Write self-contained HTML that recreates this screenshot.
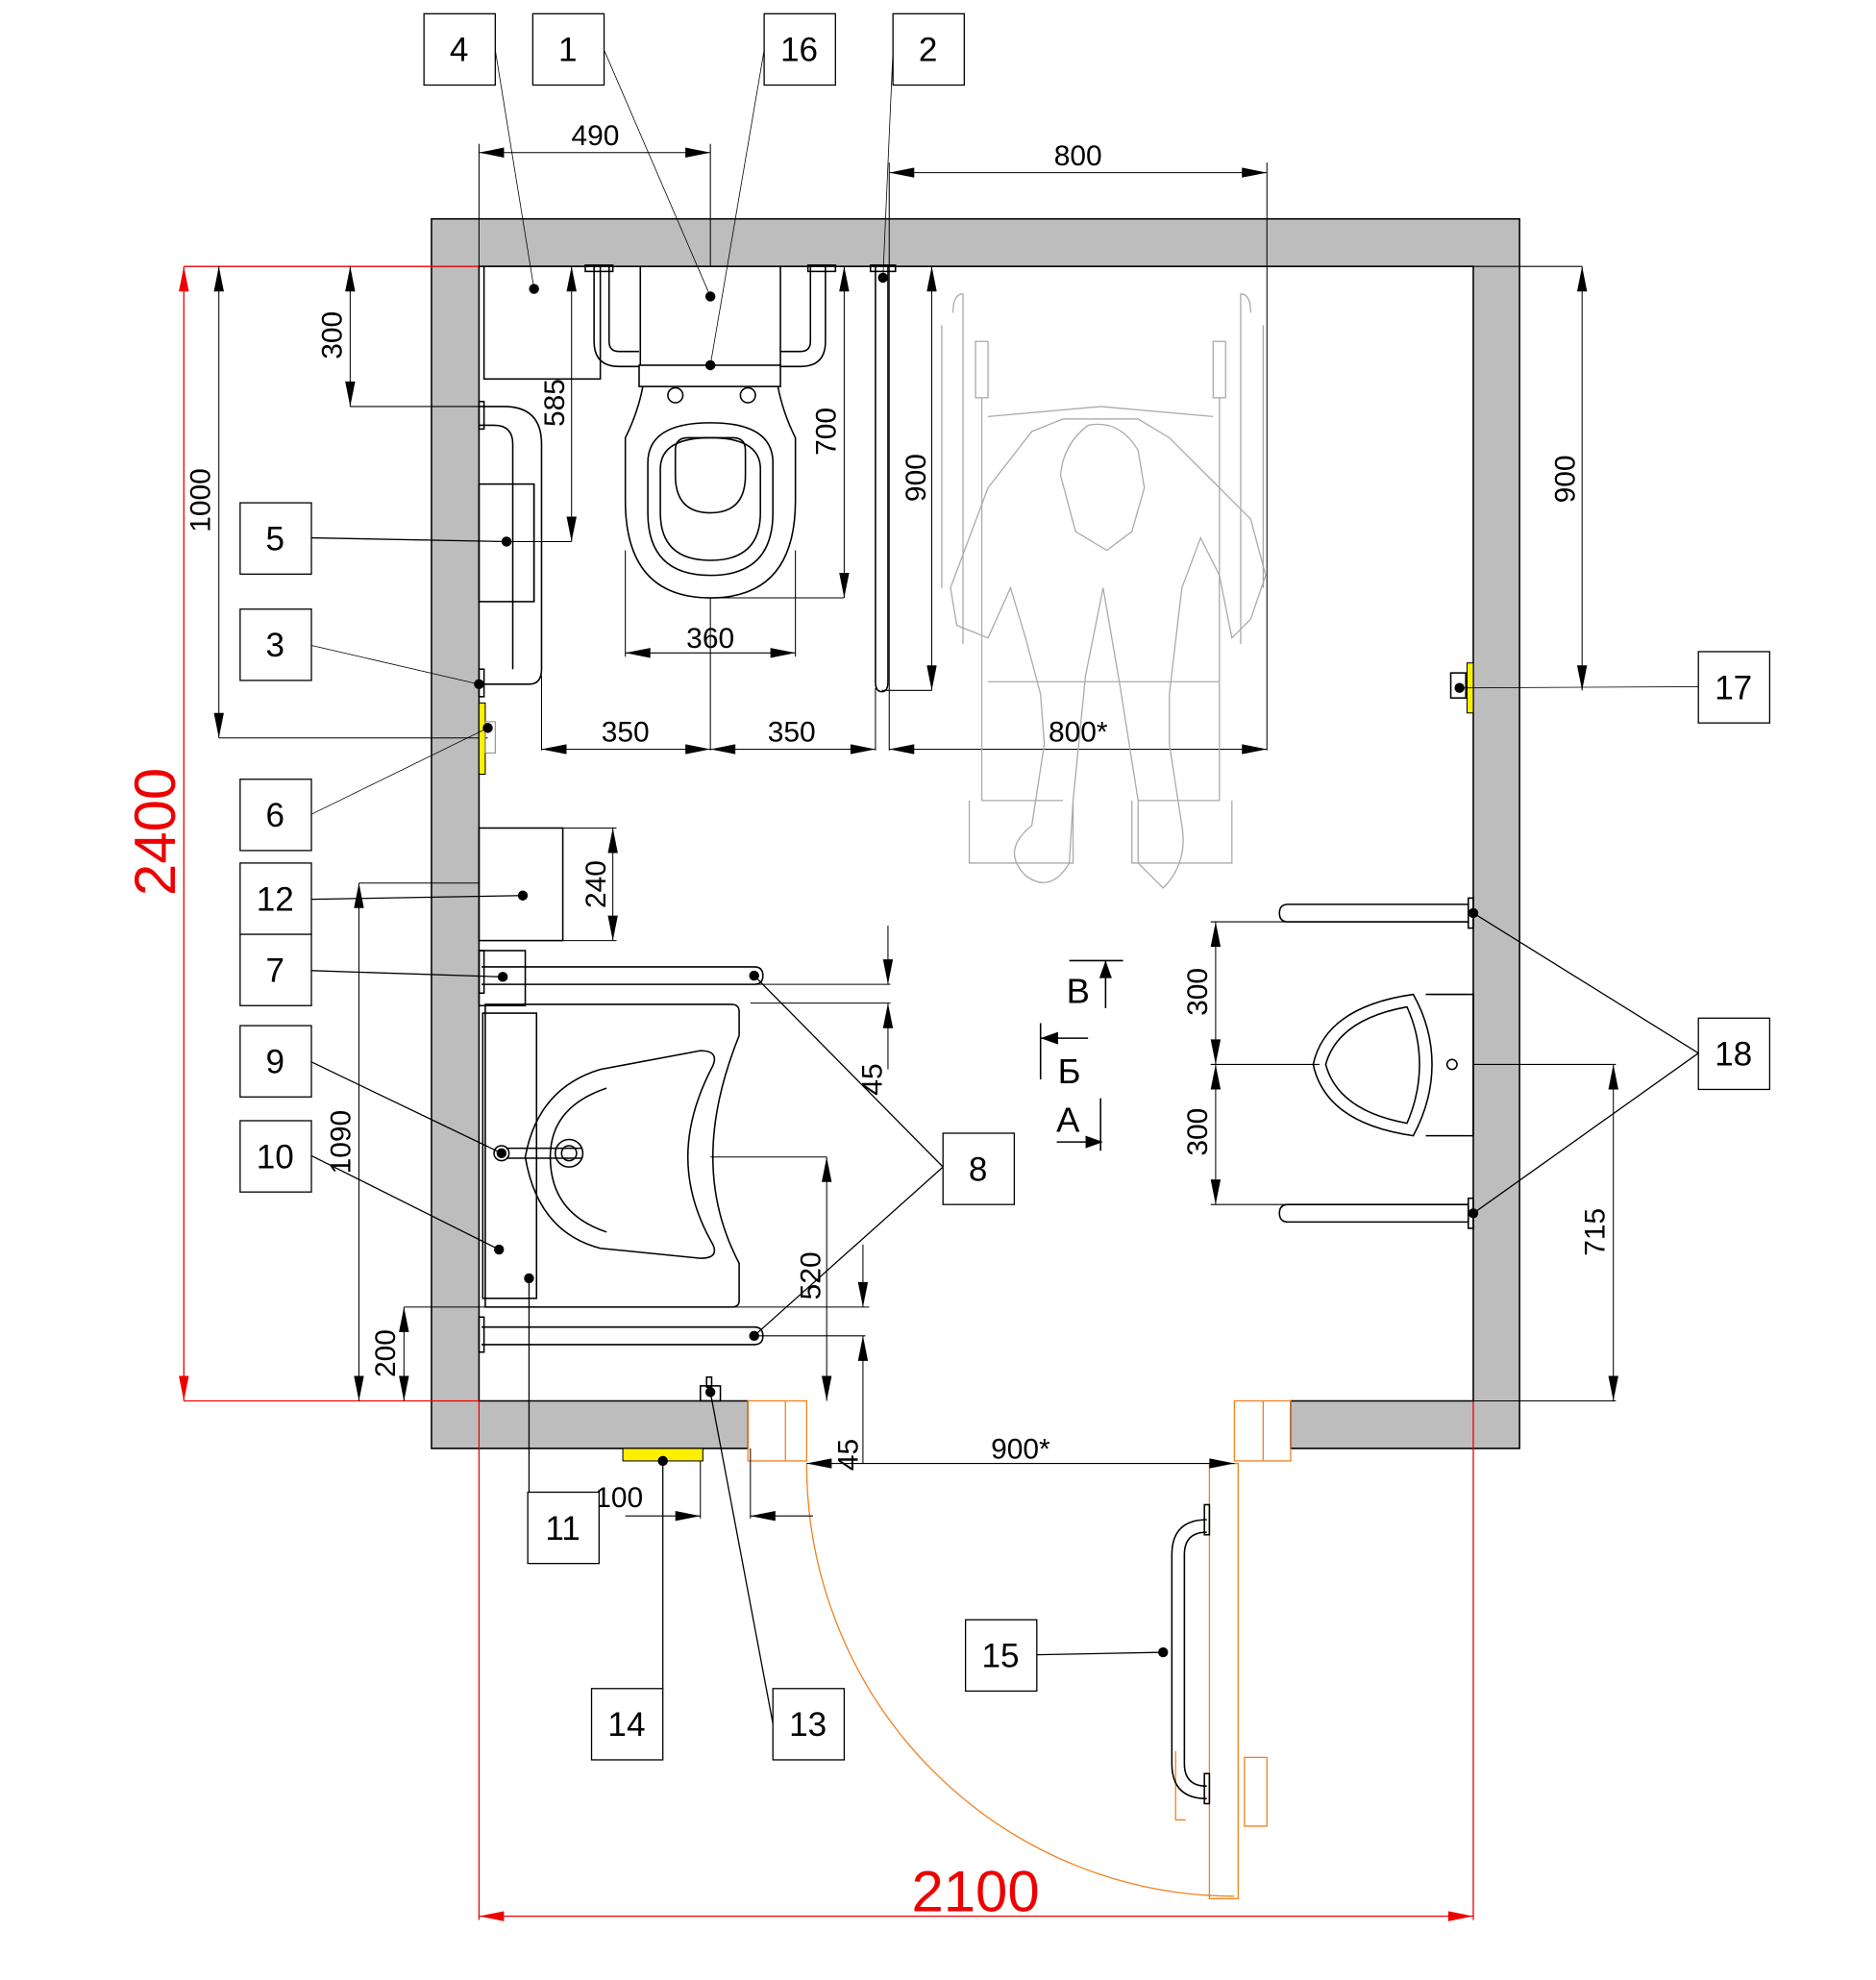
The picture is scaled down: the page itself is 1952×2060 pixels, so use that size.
<!DOCTYPE html>
<html><head><meta charset="utf-8"><style>html,body{margin:0;padding:0;background:#fff}svg{display:block}
text{font-family:"Liberation Sans","DejaVu Sans",sans-serif}</style></head><body>
<svg width="1952" height="2060" viewBox="0 0 1500 1583" preserveAspectRatio="none" xmlns="http://www.w3.org/2000/svg">
<defs>
<marker id="a" viewBox="0 0 10 4" refX="10" refY="2" markerWidth="24" markerHeight="8" markerUnits="userSpaceOnUse" orient="auto-start-reverse"><path d="M0,0L10,2L0,4Z" fill="#000"/></marker>
<marker id="r" viewBox="0 0 10 4" refX="10" refY="2" markerWidth="22" markerHeight="8" markerUnits="userSpaceOnUse" orient="auto-start-reverse"><path d="M0,0L10,2L0,4Z" fill="#e00"/></marker>
</defs>
<rect width="1500" height="1583" fill="#fff"/>
<path d="M345,175H1215V1158H1032V1120H1178V213H383V1120H598V1158H345Z" fill="#bdbdbd" stroke="#000" stroke-width="1.2"/>
<g stroke="#e00" stroke-width="1" fill="none">
<line x1="147" y1="213" x2="383" y2="213"/><line x1="147" y1="1120" x2="383" y2="1120"/>
<line x1="383" y1="1120" x2="383" y2="1535"/><line x1="1178" y1="1120" x2="1178" y2="1535"/>
<line x1="147" y1="213" x2="147" y2="1120" marker-start="url(#r)" marker-end="url(#r)"/>
<line x1="383" y1="1532" x2="1178" y2="1532" marker-start="url(#r)" marker-end="url(#r)"/>
</g>
<text x="780" y="1528" font-size="46" fill="#e00" text-anchor="middle">2100</text>
<text transform="translate(140,665) rotate(-90)" font-size="46" fill="#e00" text-anchor="middle">2400</text>
<g stroke="#f0821e" stroke-width="1" fill="none">
<rect x="598" y="1120" width="47" height="48"/><line x1="628" y1="1120" x2="628" y2="1168"/>
<rect x="987" y="1120" width="45" height="48"/><line x1="1010" y1="1120" x2="1010" y2="1168"/>
<path d="M645,1170 A342,345 0 0 0 987,1516"/>
<rect x="967" y="1170" width="23" height="348"/>
<path d="M995,1405h18v55h-18zM940,1400v55h8"/>
</g>
<g stroke="#000" stroke-width="0.8" fill="none">
<line x1="383" y1="122" x2="568" y2="122" marker-start="url(#a)" marker-end="url(#a)"/>
<line x1="383" y1="115" x2="383" y2="213"/><line x1="568" y1="115" x2="568" y2="213"/>
<line x1="711" y1="138" x2="1013" y2="138" marker-start="url(#a)" marker-end="url(#a)"/>
<line x1="711" y1="130" x2="711" y2="600"/><line x1="1013" y1="130" x2="1013" y2="600"/>
<line x1="280" y1="213" x2="280" y2="325" marker-start="url(#a)" marker-end="url(#a)"/><line x1="280" y1="325" x2="385" y2="325"/>
<line x1="175" y1="213" x2="175" y2="590" marker-start="url(#a)" marker-end="url(#a)"/><line x1="175" y1="590" x2="390" y2="590"/>
<line x1="457" y1="213" x2="457" y2="433" marker-start="url(#a)" marker-end="url(#a)"/><line x1="405" y1="433" x2="457" y2="433"/>
<line x1="675" y1="213" x2="675" y2="478" marker-start="url(#a)" marker-end="url(#a)"/><line x1="568" y1="478" x2="675" y2="478"/>
<line x1="745" y1="213" x2="745" y2="552" marker-start="url(#a)" marker-end="url(#a)"/><line x1="705" y1="552" x2="745" y2="552"/>
<line x1="1265" y1="213" x2="1265" y2="552" marker-start="url(#a)" marker-end="url(#a)"/><line x1="1178" y1="213" x2="1265" y2="213"/>
<line x1="500" y1="522" x2="636" y2="522" marker-start="url(#a)" marker-end="url(#a)"/>
<line x1="500" y1="440" x2="500" y2="525"/><line x1="636" y1="440" x2="636" y2="525"/><line x1="568" y1="478" x2="568" y2="600"/>
<line x1="433" y1="599" x2="568" y2="599" marker-start="url(#a)" marker-end="url(#a)"/>
<line x1="568" y1="599" x2="700" y2="599" marker-start="url(#a)" marker-end="url(#a)"/>
<line x1="711" y1="599" x2="1013" y2="599" marker-start="url(#a)" marker-end="url(#a)"/>
<line x1="433" y1="540" x2="433" y2="600"/><line x1="700" y1="550" x2="700" y2="600"/>
<line x1="490" y1="662" x2="490" y2="752" marker-start="url(#a)" marker-end="url(#a)"/><line x1="450" y1="662" x2="493" y2="662"/><line x1="450" y1="752" x2="493" y2="752"/>
<line x1="287" y1="706" x2="287" y2="1120" marker-start="url(#a)" marker-end="url(#a)"/><line x1="287" y1="706" x2="383" y2="706"/>
<line x1="323" y1="1045" x2="323" y2="1120" marker-start="url(#a)" marker-end="url(#a)"/><line x1="323" y1="1045" x2="695" y2="1045"/>
<line x1="710" y1="740" x2="710" y2="787" marker-end="url(#a)"/><line x1="710" y1="855" x2="710" y2="802" marker-end="url(#a)"/>
<line x1="600" y1="787" x2="712" y2="787"/><line x1="600" y1="802" x2="712" y2="802"/>
<line x1="661" y1="925" x2="661" y2="1120" marker-start="url(#a)" marker-end="url(#a)"/><line x1="568" y1="925" x2="661" y2="925"/>
<line x1="690" y1="995" x2="690" y2="1045" marker-end="url(#a)"/><line x1="690" y1="1170" x2="690" y2="1068" marker-end="url(#a)"/><line x1="600" y1="1068" x2="692" y2="1068"/>
<line x1="645" y1="1170" x2="987" y2="1170" marker-start="url(#a)" marker-end="url(#a)"/>
<line x1="500" y1="1212" x2="560" y2="1212" marker-end="url(#a)"/><line x1="650" y1="1212" x2="600" y2="1212" marker-end="url(#a)"/>
<line x1="560" y1="1165" x2="560" y2="1214"/><line x1="600" y1="1158" x2="600" y2="1214"/>
<line x1="972" y1="737" x2="972" y2="851" marker-start="url(#a)" marker-end="url(#a)"/>
<line x1="972" y1="851" x2="972" y2="963" marker-start="url(#a)" marker-end="url(#a)"/>
<line x1="968" y1="737" x2="1030" y2="737"/><line x1="968" y1="851" x2="1055" y2="851"/><line x1="968" y1="963" x2="1030" y2="963"/>
<line x1="1290" y1="851" x2="1290" y2="1120" marker-start="url(#a)" marker-end="url(#a)"/><line x1="1178" y1="851" x2="1292" y2="851"/><line x1="1178" y1="1120" x2="1292" y2="1120"/>
</g>
<g font-size="23" text-anchor="middle" fill="#000">
<text x="476" y="116">490</text><text x="862" y="132">800</text>
<text x="568" y="518">360</text><text x="500" y="593">350</text><text x="633" y="593">350</text><text x="862" y="593">800*</text>
<text x="816" y="1166">900*</text><text x="495" y="1205">100</text>
<text transform="translate(273,268) rotate(-90)">300</text>
<text transform="translate(168,400) rotate(-90)">1000</text>
<text transform="translate(451,322) rotate(-90)">585</text>
<text transform="translate(668,345) rotate(-90)">700</text>
<text transform="translate(740,382) rotate(-90)">900</text>
<text transform="translate(1259,383) rotate(-90)">900</text>
<text transform="translate(484,707) rotate(-90)">240</text>
<text transform="translate(280,913) rotate(-90)">1090</text>
<text transform="translate(316,1082) rotate(-90)">200</text>
<text transform="translate(705,863) rotate(-90)">45</text>
<text transform="translate(656,1020) rotate(-90)">520</text>
<text transform="translate(686,1163) rotate(-90)">45</text>
<text transform="translate(965,793) rotate(-90)">300</text>
<text transform="translate(965,905) rotate(-90)">300</text>
<text transform="translate(1283,985) rotate(-90)">715</text>
</g>
<g stroke="#000" stroke-width="1.2" fill="none">
<rect x="387" y="213" width="93" height="90"/>
<path d="M475,213v60q0,20 20,20h16M660,213v60q0,20 -20,20h-16M487,213v60q0,8 8,8h16M648,213v60q0,8 -8,8h-16"/>
<rect x="468" y="212" width="22" height="5"/><rect x="646" y="212" width="22" height="5"/>
<path d="M512,213V292M624,213V292"/>
<rect x="511" y="292" width="113" height="17"/>
<circle cx="540" cy="316" r="6"/><circle cx="598" cy="316" r="6"/>
<path d="M514,309 Q510,330 500,350 V400 Q500,478 568,478 Q636,478 636,400 V350 Q626,330 622,309"/>
<path d="M568,460 Q518,460 518,410 V370 Q518,338 568,338 Q618,338 618,370 V410 Q618,460 568,460Z"/>
<path d="M568,448 Q528,448 528,410 V375 Q528,350 568,350 Q608,350 608,375 V410 Q608,448 568,448Z"/>
<path d="M568,410 Q540,410 540,380 V360 Q540,350 550,350 H586 Q596,350 596,360 V380 Q596,410 568,410Z"/>
<path d="M383,325h20q30,0 30,30v180q0,12 -10,12h-40M383,340h12q15,0 15,15v180"/>
<rect x="383" y="321" width="4" height="22"/><rect x="383" y="535" width="4" height="22"/>
<rect x="383" y="387" width="44" height="94"/><line x1="427" y1="387" x2="427" y2="481"/>
<path d="M700,213V545q0,8 5,8q5,0 5,-8V213"/><rect x="696" y="212" width="20" height="5"/>
<rect x="383" y="662" width="67" height="90"/>
<rect x="383" y="760" width="37" height="44"/>
<path d="M385,773H603q7,0 7,7q0,7 -7,7H385M385,1061H603q7,0 7,7q0,7 -7,7H385"/>
<rect x="383" y="760" width="4" height="34"/><rect x="383" y="1053" width="4" height="28"/>
<path d="M388,803H585q6,0 6,6V828Q570,880 570,925Q570,970 591,1010V1040q0,5 -6,5H388Z"/>
<rect x="386" y="810" width="43" height="228"/>
<path d="M480,855 Q430,870 420,925 Q430,985 480,998 L560,1006 Q575,1006 570,995 Q550,960 550,925 Q550,890 570,852 Q575,840 560,840Z"/>
<path d="M485,870 Q440,885 440,925 Q440,970 485,985" />
<circle cx="401" cy="922" r="6"/><circle cx="455" cy="922" r="11"/><circle cx="455" cy="922" r="6"/>
<path d="M405,918H465M405,926H465"/>
<rect x="560" y="1108" width="16" height="12"/><rect x="565" y="1101" width="4" height="8"/>
<path d="M1030,723H1174V737H1030q-7,0 -7,-7q0,-7 7,-7ZM1030,963H1174V977H1030q-7,0 -7,-7q0,-7 7,-7Z"/>
<rect x="1174" y="718" width="4" height="24"/><rect x="1174" y="958" width="4" height="24"/>
<path d="M1140,795H1178V908H1140"/>
<path d="M1130,795 Q1060,805 1050,851 Q1060,898 1130,908 Q1145,880 1145,851 Q1145,822 1130,795Z"/>
<path d="M1125,805 Q1070,815 1060,851 Q1070,888 1125,898 Q1135,875 1135,851 Q1135,827 1125,805Z"/>
<circle cx="1161" cy="851" r="4"/>
<path d="M965,1215q-28,0 -28,28V1410q0,28 28,28M965,1225q-18,0 -18,18V1410q0,18 18,18"/>
<rect x="963" y="1203" width="4" height="24"/><rect x="963" y="1418" width="4" height="24"/>
<rect x="1160" y="538" width="12" height="20"/>
<path d="M855,768h43M884,768v38M832,830h38M832,818v45M845,913h35M880,878v42"/>
</g>
<path d="M884,768l-5,14h10zM832,830l14,-5v10zM882,913l-14,-5v10z" fill="#000"/>
<g font-size="28" text-anchor="middle"><text x="862" y="802">В</text><text x="855" y="866">Б</text><text x="854" y="905">А</text></g>
<rect x="383" y="562" width="5" height="57" fill="#ffef00" stroke="#000" stroke-width="0.8"/>
<rect x="388" y="577" width="8" height="25" fill="none" stroke="#888" stroke-width="0.8"/>
<rect x="498" y="1158" width="64" height="10" fill="#ffef00" stroke="#000" stroke-width="0.8"/>
<rect x="1173" y="530" width="5" height="40" fill="#ffef00" stroke="#000" stroke-width="0.8"/>
<g stroke="#aaa" stroke-width="1" fill="none">
<path d="M762,250q0,-15 8,-15v280M1000,250q0,-15 -8,-15v280M753,260V470M1010,260V470"/>
<rect x="780" y="273" width="10" height="45"/><rect x="970" y="273" width="10" height="45"/>
<path d="M785,318V640H850M975,318V640H910M790,333L880,325L970,333M790,545H975M775,640V690H858V640M985,640V690H905V640"/>
<path d="M820,700 Q800,680 825,660 L835,595 L832,555 L820,510 L808,470 L790,510 L765,500 L760,470 L775,430 L790,390 L825,345 L850,335 H910 L935,350 L965,380 L1000,415 L1012,460 L1000,495 L985,510 L975,460 L960,430 L945,470 L935,555 L935,595 L945,660 Q950,690 930,710 L910,690 L910,640 L895,545 L882,470 L868,540 L858,640 L855,690 Q840,715 820,700Z"/>
<path d="M870,340 Q850,355 848,380 L860,425 L885,440 L905,425 L915,390 L910,360 Q895,335 870,340Z"/>
</g>
<g stroke="#000" stroke-width="1" fill="none">
<line x1="396" y1="40" x2="427" y2="231" stroke-width="0.6"/>
<line x1="483" y1="40" x2="568" y2="237" stroke-width="0.6"/>
<line x1="611" y1="40" x2="568" y2="292" stroke-width="0.6"/>
<line x1="714" y1="40" x2="706" y2="222" stroke-width="0.6"/>
<line x1="249" y1="430" x2="405" y2="433"/>
<line x1="249" y1="516" x2="383" y2="547" stroke-width="0.6"/>
<line x1="249" y1="651" x2="390" y2="582" stroke-width="0.6"/>
<line x1="249" y1="719" x2="418" y2="716"/>
<line x1="249" y1="776" x2="402" y2="781"/>
<line x1="249" y1="849" x2="401" y2="922"/>
<line x1="249" y1="924" x2="399" y2="999"/>
<line x1="423" y1="1022" x2="423" y2="1193"/>
<line x1="603" y1="780" x2="754" y2="933"/><line x1="603" y1="1068" x2="754" y2="933"/>
<line x1="530" y1="1168" x2="530" y2="1350"/>
<line x1="568" y1="1113" x2="618" y2="1378"/>
<line x1="829" y1="1323" x2="930" y2="1321"/>
<line x1="1358" y1="549" x2="1167" y2="550" stroke-width="0.6"/>
<line x1="1358" y1="842" x2="1178" y2="730"/><line x1="1358" y1="842" x2="1178" y2="970"/>
</g>
<g fill="#000">
<circle cx="427" cy="231" r="4"/><circle cx="568" cy="237" r="4"/><circle cx="568" cy="292" r="4"/><circle cx="706" cy="222" r="4"/>
<circle cx="405" cy="433" r="4"/><circle cx="383" cy="547" r="4"/><circle cx="390" cy="582" r="4"/><circle cx="418" cy="716" r="4"/>
<circle cx="402" cy="781" r="4"/><circle cx="401" cy="922" r="4"/><circle cx="399" cy="999" r="4"/><circle cx="423" cy="1022" r="4"/>
<circle cx="603" cy="780" r="4"/><circle cx="603" cy="1068" r="4"/><circle cx="530" cy="1168" r="4"/><circle cx="568" cy="1113" r="4"/>
<circle cx="930" cy="1321" r="4"/><circle cx="1167" cy="550" r="4"/><circle cx="1178" cy="730" r="4"/><circle cx="1178" cy="970" r="4"/>
</g>
<g stroke="#000" stroke-width="1" fill="#fff">
<rect x="339" y="11" width="57" height="57"/><rect x="426" y="11" width="57" height="57"/><rect x="611" y="11" width="57" height="57"/><rect x="714" y="11" width="57" height="57"/>
<rect x="192" y="402" width="57" height="57"/><rect x="192" y="487" width="57" height="57"/><rect x="192" y="623" width="57" height="57"/>
<rect x="192" y="690" width="57" height="57"/><rect x="192" y="747" width="57" height="57"/><rect x="192" y="820" width="57" height="57"/><rect x="192" y="896" width="57" height="57"/>
<rect x="1358" y="521" width="57" height="57"/><rect x="1358" y="814" width="57" height="57"/><rect x="754" y="906" width="57" height="57"/>
<rect x="422" y="1193" width="57" height="57"/><rect x="772" y="1295" width="57" height="57"/><rect x="473" y="1350" width="57" height="57"/><rect x="618" y="1350" width="57" height="57"/>
</g>
<g font-size="27" text-anchor="middle" fill="#000">
<text x="367" y="49">4</text><text x="454" y="49">1</text><text x="639" y="49">16</text><text x="742" y="49">2</text>
<text x="220" y="440">5</text><text x="220" y="525">3</text><text x="220" y="661">6</text><text x="220" y="728">12</text><text x="220" y="785">7</text>
<text x="220" y="858">9</text><text x="220" y="934">10</text><text x="1386" y="559">17</text><text x="1386" y="852">18</text><text x="782" y="944">8</text>
<text x="450" y="1231">11</text><text x="800" y="1333">15</text><text x="501" y="1388">14</text><text x="646" y="1388">13</text>
</g>
</svg>
</body></html>
